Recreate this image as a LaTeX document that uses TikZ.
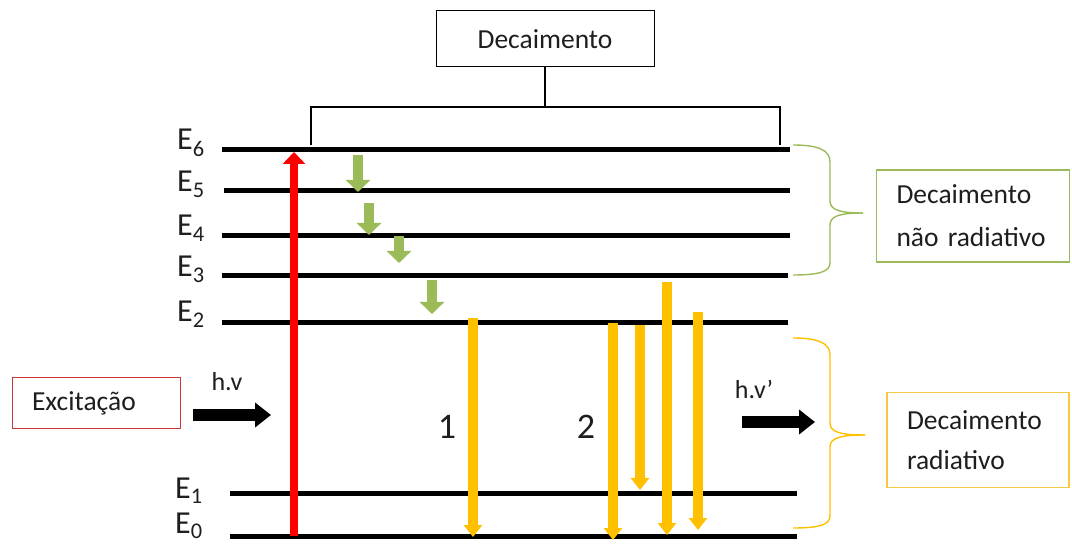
\documentclass[tikz,border=0pt]{standalone}
\usepackage{fontspec}
\setmainfont{Carlito}
\usetikzlibrary{arrows.meta}
\definecolor{nrgreen}{RGB}{155,187,89}
\definecolor{amber}{RGB}{255,192,0}
\definecolor{ambbox}{RGB}{247,200,70}
\definecolor{excred}{RGB}{200,55,55}
\definecolor{ink}{RGB}{30,30,30}

\begin{document}
\begin{tikzpicture}[x=1pt,y=-1pt,
  level/.style={line width=5pt},
  lvllabel/.style={anchor=base west, inner sep=0pt, text=ink, font=\fontsize{32}{36}\selectfont},
  boxtext/.style={text=ink, font=\fontsize{27.5}{43}\selectfont, align=left},
  bracket/.style={line width=1.5pt},
  greenarrow/.style={draw=nrgreen, line width=10pt, -{Triangle[width=24pt,length=12pt]}},
  amberarrow/.style={draw=amber, line width=10pt, -{Triangle[width=18pt,length=12pt]}},
  redarrow/.style={draw=red, line width=8pt, -{Triangle[width=22pt,length=12pt]}},
  photon/.style={draw=black, line width=12pt, -{Triangle[width=24pt,length=16pt]}},
  bracegreen/.style={draw=nrgreen, line width=1.4pt},
  braceamber/.style={draw=amber, line width=1.4pt}
]
\useasboundingbox (0,0) rectangle (1072,545);

% energy levels
\coordinate (L6a) at (222,150); \coordinate (L6b) at (790,150);
\coordinate (L5a) at (224,191); \coordinate (L5b) at (790,191);
\coordinate (L4a) at (222,236); \coordinate (L4b) at (790,236);
\coordinate (L3a) at (222,276); \coordinate (L3b) at (788,276);
\coordinate (L2a) at (222,323); \coordinate (L2b) at (788,323);
\coordinate (L1a) at (230,493); \coordinate (L1b) at (797,493);
\coordinate (L0a) at (230,536); \coordinate (L0b) at (797,536);
\foreach \i in {0,...,6} { \draw[level] (L\i a) -- (L\i b); }

% level labels
\node[lvllabel] (e6) at (177,150) {E\textsubscript{6}};
\node[lvllabel] (e5) at (177,192) {E\textsubscript{5}};
\node[lvllabel] (e4) at (177,236) {E\textsubscript{4}};
\node[lvllabel] (e3) at (177,277) {E\textsubscript{3}};
\node[lvllabel] (e2) at (177,322) {E\textsubscript{2}};
\node[lvllabel] (e1) at (175,498) {E\textsubscript{1}};
\node[lvllabel] (e0) at (175,533) {E\textsubscript{0}};

% decay box and bracket
\node[boxtext, draw=black, line width=1pt, minimum width=218pt, minimum height=56pt] (dec) at (545,39) {Decaimento};
\coordinate (bl) at (311,107); \coordinate (br) at (780,107);
\coordinate (blf) at (311,145); \coordinate (brf) at (780,145);
\draw[bracket] (blf) -- (bl) -- (br) -- (brf);
\draw[bracket] (dec.south) -- (dec.south |- bl);

% excitation
\coordinate (r0) at (294,536); \coordinate (r6) at (294,152);
\draw[redarrow] (r0) -- (r6);

% non-radiative steps
\coordinate (g1a) at (358,155); \coordinate (g1b) at (358,192);
\coordinate (g2a) at (369,203); \coordinate (g2b) at (369,235);
\coordinate (g3a) at (399,236); \coordinate (g3b) at (399,263);
\coordinate (g4a) at (432,280); \coordinate (g4b) at (432,314);
\foreach \i in {1,...,4} { \draw[greenarrow] (g\i a) -- (g\i b); }

% radiative transitions
\coordinate (y1a) at (473,318); \coordinate (y1b) at (473,537);
\coordinate (y2a) at (613,323); \coordinate (y2b) at (613,540);
\coordinate (y3a) at (640,325); \coordinate (y3b) at (640,490);
\coordinate (y4a) at (667,282); \coordinate (y4b) at (667,535);
\coordinate (y5a) at (698,312); \coordinate (y5b) at (698,530);
\foreach \i in {1,...,5} { \draw[amberarrow] (y\i a) -- (y\i b); }

\node[text=ink, font=\fontsize{36}{40}\selectfont] (n1) at (447,427) {1};
\node[text=ink, font=\fontsize{36}{40}\selectfont] (n2) at (586,427) {2};

% incoming and emitted photons
\node[boxtext, draw=excred, line width=1pt, minimum width=168pt, minimum height=51pt, text width=128pt, inner xsep=20pt] (exc) at (96,403) {Excitação};
\node[text=ink, font=\fontsize{26}{30}\selectfont] (hv) at (227,382) {h.v};
\coordinate (p1a) at (193,415); \coordinate (p1b) at (271,415);
\draw[photon] (p1a) -- (p1b);
\node[text=ink, font=\fontsize{26}{30}\selectfont] (hvp) at (754,389) {h.v’};
\coordinate (p2a) at (742,422); \coordinate (p2b) at (815,422);
\draw[photon] (p2a) -- (p2b);

% braces
\draw[bracegreen] (793,145) .. controls (818,145) and (830,150) .. (830,162) -- (830,201)
  .. controls (830,210) and (840,213) .. (863,213);
\draw[bracegreen] (863,213) .. controls (840,213) and (830,216) .. (830,225) -- (830,263)
  .. controls (830,272) and (818,275) .. (793,275);
\draw[braceamber] (793,338) .. controls (818,338) and (830,343) .. (830,355) -- (830,423)
  .. controls (830,432) and (840,435) .. (865,435);
\draw[braceamber] (865,435) .. controls (840,435) and (830,438) .. (830,447) -- (830,516)
  .. controls (830,525) and (818,528) .. (793,528);

% decay-type boxes
\node[boxtext, draw=nrgreen, line width=1.2pt, minimum width=193pt, minimum height=92pt, text width=153pt, inner xsep=20pt] (nrad) at (973,216) {Decaimento\\não radiativo};
\node[boxtext, draw=ambbox, line width=1.2pt, minimum width=182pt, minimum height=95pt, text width=142pt, inner xsep=20pt, font=\fontsize{27.5}{40}\selectfont] (rad) at (978,440) {Decaimento\\radiativo};
\end{tikzpicture}
\end{document}
